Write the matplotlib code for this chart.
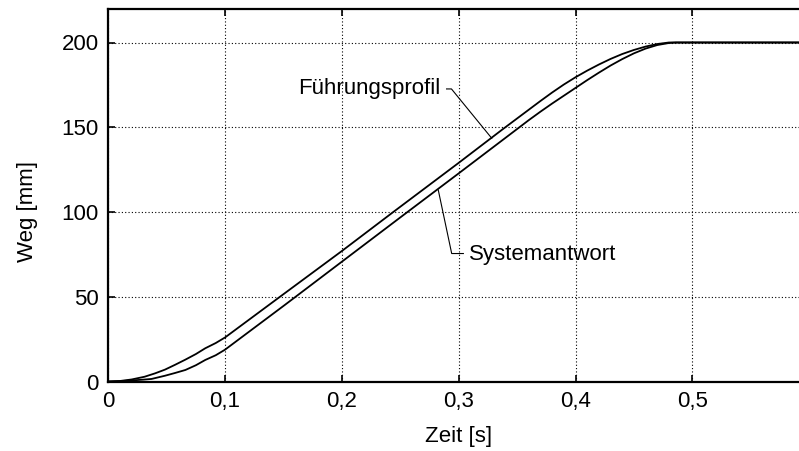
import matplotlib
matplotlib.use('Agg')
from matplotlib import pyplot as plt

# Führungsprofil (Sollwert)
t_fuehrung = [0.0, 0.01, 0.02, 0.031, 0.04, 0.0485, 0.057, 0.066, 0.075, 0.083, 0.092, 0.1,
              0.147, 0.2, 0.244, 0.3, 0.338, 0.37, 0.38, 0.39, 0.4, 0.41, 0.42, 0.43,
              0.44, 0.45, 0.46, 0.47, 0.48, 0.6]
s_fuehrung = [0.0, 0.3, 1.2, 2.8, 4.8, 7.0, 9.8, 12.9, 16.2, 19.6, 22.7, 26.0,
              50.0, 77.0, 100.0, 129.0, 149.0, 165.5, 170.5, 175.2, 179.5, 183.4, 187.0, 190.3,
              193.2, 195.6, 197.6, 199.1, 200.0, 200.0]

# Systemantwort (Istwert)
t_system = [0.0, 0.015, 0.03, 0.037, 0.0485, 0.057, 0.066, 0.075, 0.083, 0.092, 0.1,
            0.151, 0.2, 0.25, 0.3, 0.352, 0.36, 0.37, 0.38, 0.39, 0.4, 0.41, 0.42,
            0.43, 0.44, 0.45, 0.46, 0.47, 0.48, 0.486, 0.6]
s_system = [0.0, 0.4, 1.1, 1.5, 3.4, 5.0, 6.8, 9.6, 12.7, 15.5, 18.8,
            45.1, 70.7, 96.8, 122.8, 150.0, 154.2, 159.2, 164.0, 168.6, 173.2, 177.8, 182.2,
            186.4, 190.2, 193.6, 196.4, 198.5, 199.7, 200.0, 200.0]

plt.rcParams['font.family'] = ['Liberation Sans', 'DejaVu Sans']
plt.rcParams['font.size'] = 16

fig = plt.figure(figsize=(7.99, 4.51), dpi=100)
# axes runs a little past the right edge (picture is cropped there)
ax = fig.add_axes([108.3 / 799, 69.5 / 451, 700.8 / 799, 372.9 / 451])

ax.plot(t_fuehrung, s_fuehrung, color='black', linewidth=1.3)
ax.plot(t_system, s_system, color='black', linewidth=1.3)

ax.set_xlim(0, 0.6)
ax.set_ylim(0, 220)
ax.set_xticks([0, 0.1, 0.2, 0.3, 0.4, 0.5])
ax.set_xticklabels(['0', '0,1', '0,2', '0,3', '0,4', '0,5'])
ax.set_yticks([0, 50, 100, 150, 200])

ax.grid(True, color='black', linestyle=(0, (1, 2)), linewidth=0.8)
for side in ['left', 'bottom', 'top', 'right']:
    ax.spines[side].set_linewidth(1.6)
ax.tick_params(direction='in', length=5, width=1.2, top=True, right=True, pad=7)

ax.set_xlabel('Zeit [s]', labelpad=10)
ax.set_ylabel('Weg [mm]')
ax.yaxis.label.set_va('center')
ax.yaxis.set_label_coords(-0.116, 0.456)

# Beschriftungen mit Hinweislinien
ax.text(0.284, 172.6, 'Führungsprofil', ha='right', va='center')
ax.plot([0.2896, 0.2938, 0.3283], [172.6, 172.6, 143.5], color='black', linewidth=0.8)
ax.text(0.309, 75.0, 'Systemantwort', ha='left', va='center')
ax.plot([0.304, 0.294, 0.2825], [75.5, 75.5, 113.0], color='black', linewidth=0.8)

fig.savefig('out.png', dpi=100)
